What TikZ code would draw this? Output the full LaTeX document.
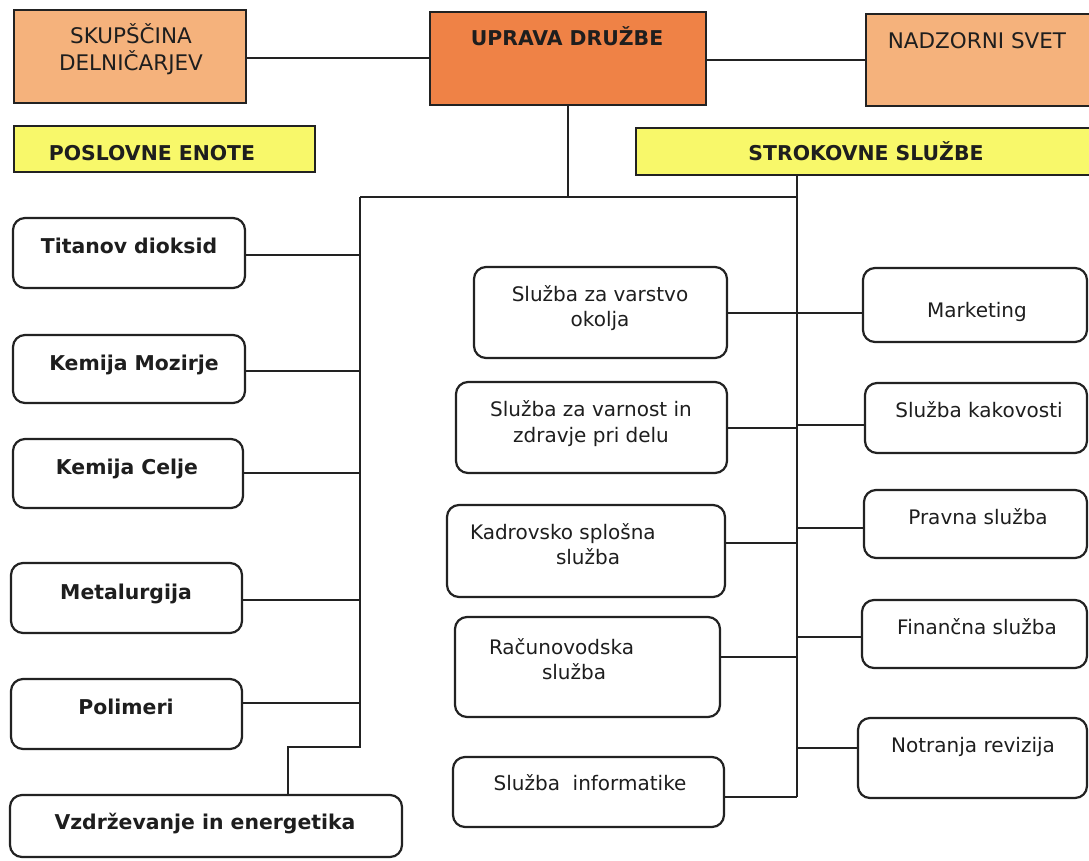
\documentclass[tikz,border=0pt]{standalone}
\usepackage{fontspec}
\setmainfont{DejaVu Sans}
\usetikzlibrary{fit}
\definecolor{lor}{HTML}{F5B27C}
\definecolor{dor}{HTML}{EF8246}
\definecolor{yel}{HTML}{F8F86A}
\definecolor{txt}{HTML}{1E1E1E}
\definecolor{ln}{HTML}{222222}
\begin{document}
\begin{tikzpicture}[x=1pt,y=-1pt,
  every node/.style={inner sep=0pt, outer sep=0pt},
  sqbox/.style={draw=ln, line width=2pt, rectangle},
  rbox/.style={draw=ln, line width=2.2pt, rounded corners=12pt, fill=white},
  lbl/.style={anchor=base, text=txt, font=\fontsize{20}{24}\selectfont},
  caplbl/.style={anchor=base, text=txt, font=\fontsize{21.5}{24}\selectfont},
  blbl/.style={anchor=base, text=txt, font=\fontsize{20.4}{24}\selectfont\bfseries},
  conn/.style={draw=ln, line width=2pt}]
\useasboundingbox (0,0) rectangle (1089,860);
\clip (0,0) rectangle (1089,860);
\fill[white] (0,0) rectangle (1089,860);

% top boxes
\node[sqbox, fill=lor, fit={(14,10) (246,103)}] (skup) {};
\node[sqbox, fill=dor, fit={(430,12) (706,105)}] (uprava) {};
\node[sqbox, fill=lor, fit={(866,14) (1100,106)}] (nadz) {};
\node[sqbox, fill=yel, fit={(14,126) (315,172)}] (posl) {};
\node[sqbox, fill=yel, fit={(636,128) (1100,175)}] (strok) {};

\node[caplbl] (tskup1) at (131,43) {SKUPŠČINA};
\node[caplbl] (tskup2) at (131,70) {DELNIČARJEV};
\node[blbl] (tuprava) at (567,45) {UPRAVA DRUŽBE};
\node[caplbl] (tnadz) at (977,48) {NADZORNI SVET};
\node[blbl] (tposl) at (152,160) {POSLOVNE ENOTE};
\node[blbl] (tstrok) at (866,160) {STROKOVNE SLUŽBE};

% left boxes
\node[rbox, fit={(13,218) (245,288)}] (tit) {};
\node[rbox, fit={(13,335) (245,403)}] (kmoz) {};
\node[rbox, fit={(13,439) (243,508)}] (kcel) {};
\node[rbox, fit={(11,563) (242,633)}] (met) {};
\node[rbox, fit={(11,679) (242,749)}] (pol) {};
\node[rbox, fit={(10,795) (402,857)}] (vzd) {};

\node[blbl] (ttit) at (129,253) {Titanov dioksid};
\node[blbl] (tkmoz) at (134,370) {Kemija Mozirje};
\node[blbl] (tkcel) at (127,474) {Kemija Celje};
\node[blbl] (tmet) at (126,599) {Metalurgija};
\node[blbl] (tpol) at (126,714) {Polimeri};
\node[blbl] (tvzd) at (205,829) {Vzdrževanje in energetika};

% middle boxes
\node[rbox, fit={(474,267) (727,358)}] (varst) {};
\node[rbox, fit={(456,382) (727,473)}] (varn) {};
\node[rbox, fit={(447,505) (725,597)}] (kadr) {};
\node[rbox, fit={(455,617) (720,717)}] (racu) {};
\node[rbox, fit={(453,757) (724,827)}] (info) {};

\node[lbl] (tvarst1) at (600,301) {Služba za varstvo};
\node[lbl] (tvarst2) at (600,326) {okolja};
\node[lbl] (tvarn1) at (591,416) {Služba za varnost in};
\node[lbl] (tvarn2) at (591,442) {zdravje pri delu};
\node[lbl, anchor=base west] (tkadr1) at (470,539) {Kadrovsko splošna};
\node[lbl, anchor=base west] (tkadr2) at (556,564) {služba};
\node[lbl, anchor=base west] (tracu1) at (489,654) {Računovodska};
\node[lbl, anchor=base west] (tracu2) at (542,679) {služba};
\node[lbl] (tinfo) at (590,790) {Služba~~informatike};

% right boxes
\node[rbox, fit={(863,268) (1087,342)}] (mkt) {};
\node[rbox, fit={(865,383) (1087,453)}] (kak) {};
\node[rbox, fit={(864,490) (1087,558)}] (prav) {};
\node[rbox, fit={(862,600) (1087,668)}] (fin) {};
\node[rbox, fit={(858,718) (1087,798)}] (notr) {};

\node[lbl] (tmkt) at (977,317) {Marketing};
\node[lbl] (tkak) at (979,417) {Služba kakovosti};
\node[lbl] (tprav) at (978,524) {Pravna služba};
\node[lbl] (tfin) at (977,634) {Finančna služba};
\node[lbl] (tnotr) at (973,752) {Notranja revizija};

% bus coordinates
\coordinate (lt) at (360,197);
\coordinate (rt) at (797,197);
\coordinate (lb) at (360,747);
\coordinate (ls) at (288,747);
\coordinate (rbot) at (797,797);

% top connectors
\draw[conn] (skup.east |- 0,58) -- (uprava.west |- 0,58);
\draw[conn] (uprava.east |- 0,60) -- (nadz.west |- 0,60);
\draw[conn] (uprava.south) -- (uprava.south |- lt);
\draw[conn] (lt) -- (rt);
\draw[conn] (strok.south -| rt) -- (rbot);
\draw[conn] (lt) -- (lb) -- (ls) -- (ls |- vzd.north);

% left connectors
\draw[conn] (tit.east |- 0,255) -- (lt |- 0,255);
\draw[conn] (kmoz.east |- 0,371) -- (lt |- 0,371);
\draw[conn] (kcel.east |- 0,473) -- (lt |- 0,473);
\draw[conn] (met.east |- 0,600) -- (lt |- 0,600);
\draw[conn] (pol.east |- 0,703) -- (lt |- 0,703);

% middle / right connectors
\draw[conn] (varst.east |- 0,313) -- (mkt.west |- 0,313);
\draw[conn] (varn.east |- 0,428) -- (rt |- 0,428);
\draw[conn] (rt |- 0,425) -- (kak.west |- 0,425);
\draw[conn] (kadr.east |- 0,543) -- (rt |- 0,543);
\draw[conn] (rt |- 0,528) -- (prav.west |- 0,528);
\draw[conn] (racu.east |- 0,657) -- (rt |- 0,657);
\draw[conn] (rt |- 0,637) -- (fin.west |- 0,637);
\draw[conn] (rt |- 0,748) -- (notr.west |- 0,748);
\draw[conn] (info.east |- rbot) -- (rbot);
\end{tikzpicture}
\end{document}
